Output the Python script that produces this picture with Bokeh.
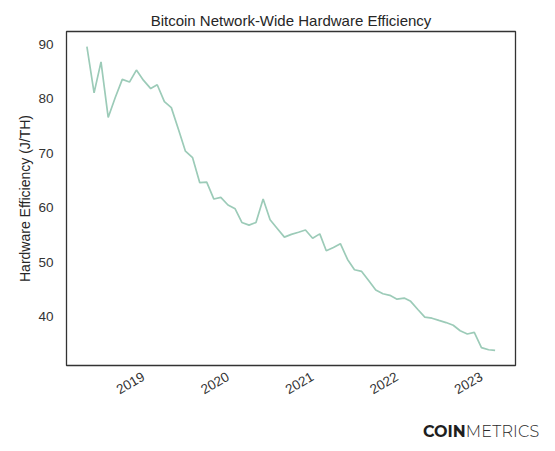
import pandas as pd
from bokeh.plotting import figure
from bokeh.models import (Range1d, FixedTicker, DatetimeTickFormatter, Div)
from bokeh.layouts import column
from bokeh.embed import file_html
from bokeh.resources import INLINE
import math

start_month = "2018-05-01"
efficiency = [89.6, 81.1, 86.8, 76.6, 80.3, 83.6, 83.1, 85.3, 83.4, 81.9,
              82.6, 79.5, 78.4, 74.4, 70.4, 69.2, 64.6, 64.7, 61.6, 61.9,
              60.5, 59.8, 57.3, 56.8, 57.3, 61.6, 57.8, 56.2, 54.6, 55.1,
              55.5, 55.9, 54.4, 55.2, 52.1, 52.7, 53.4, 50.5, 48.6, 48.3,
              46.6, 44.9, 44.2, 43.9, 43.2, 43.4, 42.8, 41.3, 39.9, 39.7,
              39.3, 38.9, 38.4, 37.4, 36.8, 37.1, 34.3, 33.9, 33.8]
year_ticks = ["2019-01-01", "2020-01-01", "2021-01-01", "2022-01-01", "2023-01-01"]
y_ticks = [40, 50, 60, 70, 80, 90]

dates = pd.date_range(start_month, periods=len(efficiency), freq="MS")
xs = [d.timestamp() * 1000 for d in dates]

span_x = xs[-1] - xs[0]
ymin, ymax = min(efficiency), max(efficiency)
span_y = ymax - ymin

p = figure(width=555, height=405, x_axis_type="datetime",
           output_backend="svg", toolbar_location=None,
           x_range=Range1d(xs[0] - 0.05 * span_x, xs[-1] + 0.05 * span_x),
           y_range=Range1d(ymin - 0.05 * span_y, ymax + 0.05 * span_y),
           min_border_left=66, min_border_right=40,
           min_border_top=31, min_border_bottom=40)

p.title.text = "Bitcoin Network-Wide Hardware Efficiency"
p.title.align = "center"
p.title.text_font = "Liberation Sans"
p.title.text_font_size = "15px"
p.title.text_font_style = "normal"
p.title.text_color = "#262626"
p.title.standoff = 6

p.line(xs, efficiency, line_color="#9ccbb8", line_width=1.7)

p.xgrid.visible = False
p.ygrid.visible = False
p.outline_line_color = "#333333"
p.outline_line_width = 1.3
p.outline_line_alpha = 1.0

tick_ms = [pd.Timestamp(t).timestamp() * 1000 for t in year_ticks]
p.xaxis.ticker = FixedTicker(ticks=tick_ms)
p.xaxis.formatter = DatetimeTickFormatter(years="%Y", months="%Y", days="%Y",
                                          hours="%Y", minutes="%Y", seconds="%Y",
                                          milliseconds="%Y", microseconds="%Y")
p.xaxis.major_label_orientation = math.pi / 6
p.yaxis.ticker = FixedTicker(ticks=y_ticks)

for ax in (p.xaxis[0], p.yaxis[0]):
    ax.axis_line_color = None
    ax.major_tick_line_color = None
    ax.minor_tick_line_color = None
    ax.major_tick_in = 0
    ax.major_tick_out = 0
    ax.minor_tick_in = 0
    ax.minor_tick_out = 0
    ax.major_label_text_font = "Liberation Sans"
    ax.major_label_text_font_size = "13.5px"
    ax.major_label_text_color = "#333333"

p.xaxis.major_label_standoff = 10
p.yaxis.major_label_standoff = 13

p.yaxis.axis_label = "Hardware Efficiency (J/TH)"
p.yaxis.axis_label_text_font = "Liberation Sans"
p.yaxis.axis_label_text_font_size = "14px"
p.yaxis.axis_label_text_font_style = "normal"
p.yaxis.axis_label_text_color = "#262626"
p.yaxis.axis_label_standoff = 2

logo = Div(
    text=('<div style="position:absolute; left:423px; top:16px; '
          'font-family:Montserrat, Lato, sans-serif; font-size:16px; '
          'color:#1e1e1e; white-space:nowrap;">'
          '<span style="font-weight:bold;">COIN</span>'
          '<span style="font-weight:300; color:#2a2a2a; letter-spacing:0.2px;">METRICS</span>'
          '</div>'),
    width=555, height=46, margin=0)

layout = column(p, logo, spacing=0, margin=0)

open("out.html", "w").write(file_html(layout, INLINE))
